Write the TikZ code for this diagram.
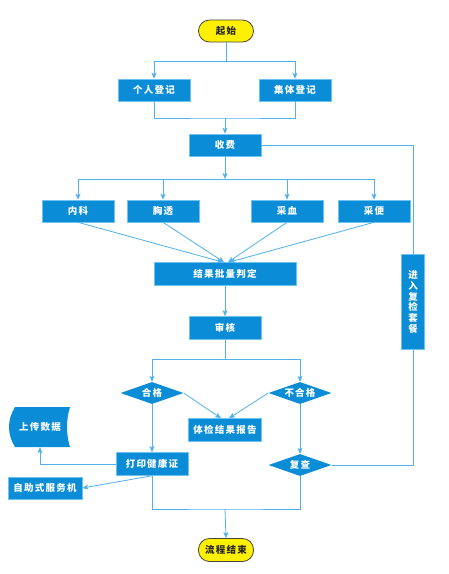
\documentclass[tikz,border=0pt]{standalone}
\usepackage{fontspec}
\setmainfont{Noto Sans CJK SC}[LetterSpace=13]
\usetikzlibrary{shapes.geometric,arrows.meta}
\definecolor{boxblue}{RGB}{10,140,215}
\definecolor{lineblue}{RGB}{80,178,234}
\definecolor{edgeblue}{RGB}{110,195,240}
\definecolor{pillyellow}{RGB}{255,240,0}
\definecolor{pilledge}{RGB}{70,70,60}
\tikzset{
  txt/.style={font=\bfseries\fontsize{9.5}{11}\selectfont},
  box/.style={rectangle,fill=boxblue,draw=edgeblue,line width=0.6pt,text=white,
    minimum width=72pt,minimum height=22pt,inner sep=0pt,txt},
  dia/.style={diamond,aspect=2.86,fill=boxblue,text=white,inner sep=0pt,
    minimum width=63pt,minimum height=22pt,txt},
  pill/.style={rectangle,rounded corners=11pt,fill=pillyellow,draw=pilledge,line width=0.8pt,
    text=black!85,minimum width=55pt,minimum height=22pt,inner sep=0pt,txt},
  ln/.style={draw=lineblue,line width=0.8pt},
  arr/.style={ln,-{Stealth[length=6pt,width=5pt,inset=1.5pt]}},
}
\begin{document}
\begin{tikzpicture}[x=1pt,y=-1pt]
\useasboundingbox[fill=white] (0,0) rectangle (448,574);
% nodes
\node[pill] (start) at (226,31) {起始};
\node[box] (reg1) at (154,90) {个人登记};
\node[box] (reg2) at (295,90) {集体登记};
\node[box] (fee) at (225,145) {收费};
\node[box] (nk) at (78,211) {内科};
\node[box] (xt) at (163,211) {胸透};
\node[box] (cx) at (287,211) {采血};
\node[box] (cb) at (374,211) {采便};
\node[box,minimum width=142pt,minimum height=23pt] (res) at (225,274) {结果批量判定};
\node[box,minimum height=23pt] (audit) at (225,328) {审核};
\node[dia] (pass) at (152,393) {合格};
\node[dia] (fail) at (300,393) {不合格};
\node[box,minimum width=73pt,minimum height=23pt] (report) at (225,430) {体检结果报告};
\node[box,minimum height=23pt] (print) at (152,464) {打印健康证};
\node[dia] (recheck) at (300,465) {复查};
\node[box,minimum width=23pt,minimum height=95pt,align=center,
  font=\bfseries\fontsize{9.5}{10.7}\selectfont] (reenter) at (413,302) {进\\入\\复\\检\\套\\餐};
\fill[boxblue] (15,407) -- (70,407) .. controls (66,420) and (66,434) .. (70,447)
  -- (15,447) .. controls (7,434) and (7,420) .. (15,407);
\node[rectangle,text=white,minimum width=55pt,minimum height=40pt,inner sep=0pt,txt] (up) at (40,427) {上传数据};
\node[box,minimum width=74pt] (kiosk) at (45,488) {自助式服务机};
\node[pill,minimum height=23pt] (end) at (226,550) {流程结束};
% junctions
\coordinate (j0) at (226,61);
\coordinate (j1) at (225,118);
\coordinate (j2) at (225,179);
\coordinate (j3) at (225,359);
\coordinate (j4) at (225,509);
% connectors
\draw[ln] (start) -- (j0);
\draw[arr] (j0) -| (reg1.north);
\draw[arr] (j0) -| (reg2.north);
\draw[ln] (reg1.south) |- (j1) -| (reg2.south);
\draw[arr] (j1) -- (fee.north);
\draw[ln] (fee.east) -| (reenter.north);
\draw[arr] (fee.south) -- (j2);
\draw[arr] (j2) -| (nk.north);
\draw[arr] (j2) -| (xt.north);
\draw[arr] (j2) -| (cx.north);
\draw[arr] (j2) -| (cb.north);
\draw[arr] (nk.south) -- ([xshift=-2pt]res.north);
\draw[arr] (xt.south) -- ([xshift=-1pt]res.north);
\draw[arr] (cx.south) -- ([xshift=3pt]res.north);
\draw[arr] (cb.south) -- ([xshift=4pt]res.north);
\draw[arr] (res.south) -- (audit.north);
\draw[ln] (audit.south) -- (j3);
\draw[arr] (j3) -| (pass.north);
\draw[arr] (j3) -| (fail.north);
\draw[arr] (pass.east) -- ([xshift=-4pt]report.north);
\draw[arr] (fail.west) -- ([xshift=4pt]report.north);
\draw[arr] (pass.south) -- (print.north);
\draw[arr] (fail.south) -- (recheck.north);
\draw[ln] (recheck.east) -| (reenter.south);
\draw[arr] (print.west) -| (up.south);
\draw[arr] (print.south) -- (kiosk.east);
\draw[ln] (print.south) |- (j4) -| (recheck.south);
\draw[arr] (j4) -- (end.north);
\end{tikzpicture}
\end{document}
